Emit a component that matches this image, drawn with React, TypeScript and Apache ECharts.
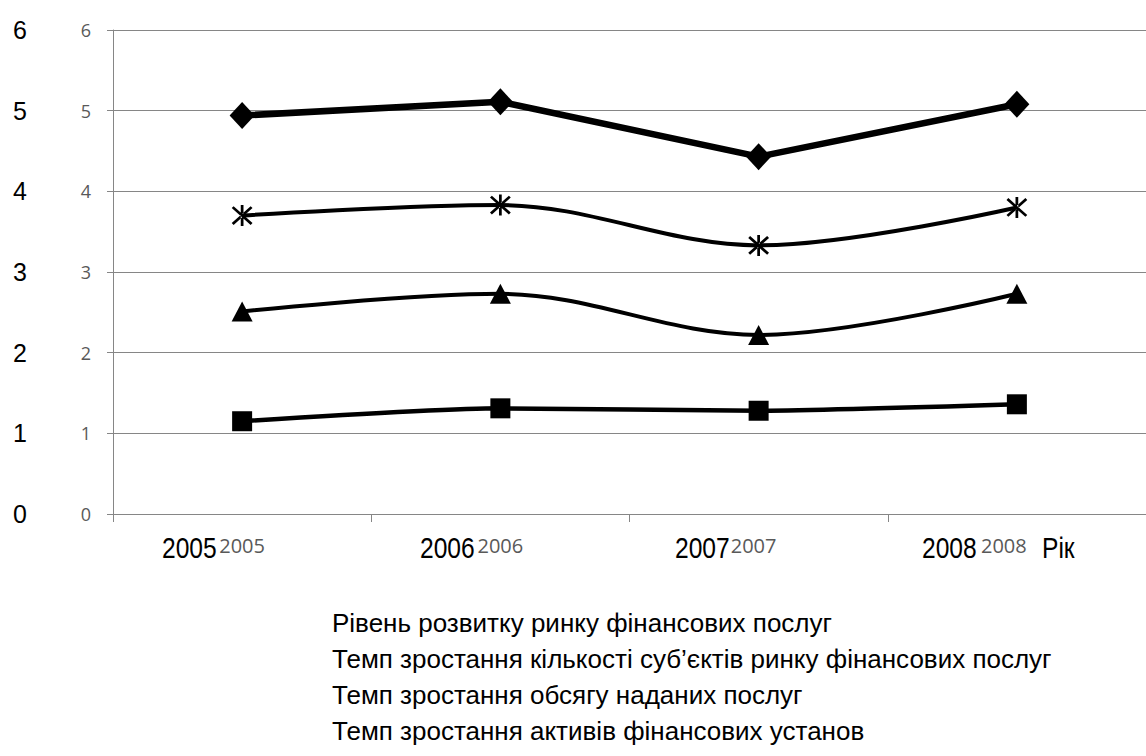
import React, { useEffect, useRef } from "react";
import * as echarts from "echarts";

const categories = ["2005", "2006", "2007", "2008"];
const seriesNames = [
  "Рівень розвитку ринку фінансових послуг",
  "Темп зростання кількості суб’єктів ринку фінансових послуг",
  "Темп зростання обсягу наданих послуг",
  "Темп зростання активів фінансових установ",
];
const levelDevelopment = [4.94, 5.11, 4.43, 5.08];
const subjectsGrowth = [3.7, 3.83, 3.33, 3.8];
const servicesGrowth = [2.51, 2.73, 2.22, 2.73];
const assetsGrowth = [1.15, 1.31, 1.28, 1.36];
const axisTitle = "Рік";

const ARIAL = "'Liberation Sans', Arial, sans-serif";
const SMALL = "'Open Sans', 'Noto Sans', sans-serif";

const STAR =
  "path://M-1.3,-10 L1.3,-10 L1.3,10 L-1.3,10 Z M-9.9,-7.1 L-8.1,-8.9 L9.9,7.1 L8.1,8.9 Z M-9.9,7.1 L-8.1,8.9 L9.9,-7.1 L8.1,-8.9 Z";

export default function App() {
  const ref = useRef<HTMLDivElement>(null);
  useEffect(() => {
    if (!ref.current) return;
    const chart = echarts.init(ref.current, null, { renderer: "svg" });
    const bigLabelLeft = [162, 420, 675, 922];
    const bigText = (text: string, x: number) => ({
      type: "text",
      x,
      y: 548,
      scaleX: 0.82,
      style: {
        text,
        font: `30px ${ARIAL}`,
        fill: "#000",
        verticalAlign: "middle",
        align: "left",
      },
    });
    const labelStyle = { fontFamily: SMALL, fontSize: 20, color: "#595959" };
    const option: any = {
      animation: false,
      backgroundColor: "#ffffff",
      grid: { left: 113, right: -7, top: 30, bottom: 242, containLabel: false },
      legend: {
        orient: "vertical",
        left: 322,
        top: 605,
        icon: "rect",
        itemWidth: 0,
        itemHeight: 0,
        itemGap: 10,
        selectedMode: false,
        textStyle: { fontFamily: ARIAL, fontSize: 26, color: "#000" },
        data: seriesNames,
      },
      xAxis: {
        type: "category",
        data: categories,
        boundaryGap: true,
        axisLine: { show: true, lineStyle: { color: "#868686", width: 1 } },
        axisTick: { show: true, length: 8, alignWithLabel: false, lineStyle: { color: "#868686" } },
        axisLabel: {
          ...labelStyle,
          margin: 21,
          formatter: (v: string, i: number) => `{l${i}|${v}}`,
          rich: {
            l0: { ...labelStyle },
            l1: { ...labelStyle },
            l2: { ...labelStyle, padding: [0, 10, 0, 0] },
            l3: { ...labelStyle, padding: [0, 26, 0, 0] },
          },
        },
        splitLine: { show: false },
      },
      yAxis: [
        {
          type: "value",
          min: 0,
          max: 6,
          interval: 1,
          axisLine: { show: true, lineStyle: { color: "#868686", width: 1 } },
          axisTick: { show: true, length: 6, lineStyle: { color: "#868686" } },
          axisLabel: { fontFamily: SMALL, fontSize: 18, color: "#595959", margin: 22 },
          splitLine: { show: true, lineStyle: { color: "#868686", width: 1 } },
        },
        {
          type: "value",
          position: "left",
          offset: 78,
          min: 0,
          max: 6,
          interval: 1,
          axisLine: { show: false },
          axisTick: { show: false },
          splitLine: { show: false },
          axisLabel: { fontFamily: ARIAL, fontSize: 25, color: "#000", margin: 8 },
        },
      ],
      graphic: [
        ...categories.map((c, i) => bigText(c, bigLabelLeft[i])),
        bigText(axisTitle, 1042),
      ],
      series: [
        {
          name: seriesNames[0],
          type: "line",
          data: levelDevelopment,
          symbol: "diamond",
          symbolSize: [25, 27],
          lineStyle: { color: "#000", width: 6.5 },
          itemStyle: { color: "#000" },
          z: 5,
        },
        {
          name: seriesNames[1],
          type: "line",
          data: subjectsGrowth,
          smooth: 0.35,
          symbol: STAR,
          symbolKeepAspect: true,
          symbolSize: 21,
          lineStyle: { color: "#000", width: 4 },
          itemStyle: { color: "#000" },
        },
        {
          name: seriesNames[2],
          type: "line",
          data: servicesGrowth,
          smooth: 0.35,
          symbol: "triangle",
          symbolSize: [21, 20],
          lineStyle: { color: "#000", width: 4 },
          itemStyle: { color: "#000" },
        },
        {
          name: seriesNames[3],
          type: "line",
          data: assetsGrowth,
          smooth: 0.2,
          symbol: "rect",
          symbolSize: 20,
          lineStyle: { color: "#000", width: 4.5 },
          itemStyle: { color: "#000" },
        },
      ],
    };
    chart.setOption(option);
    return () => chart.dispose();
  }, []);
  return (
    <div
      ref={ref}
      style={{ position: "fixed", left: 0, top: 0, width: 1146, height: 756, background: "#fff" }}
    />
  );
}
